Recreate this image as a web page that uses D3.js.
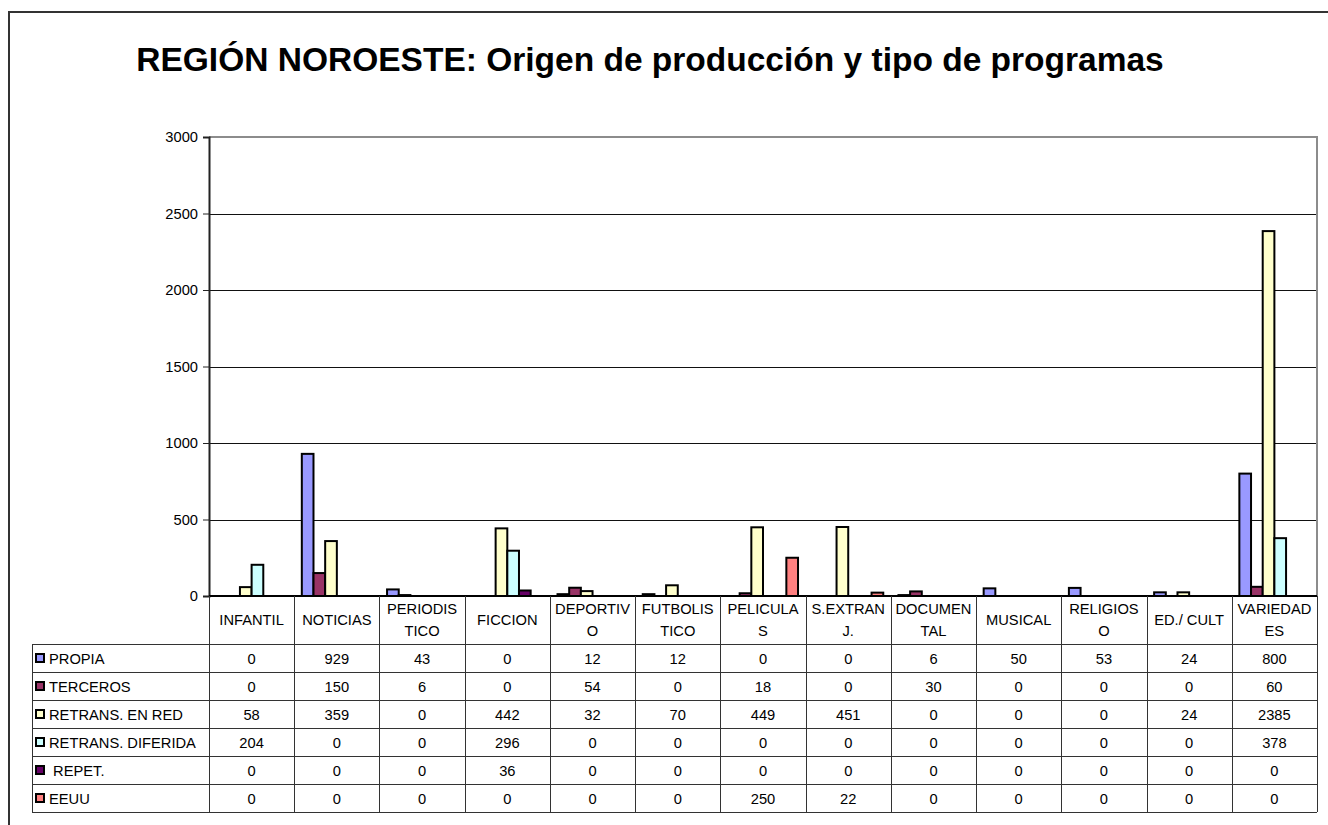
<!DOCTYPE html>
<html>
<head>
<meta charset="utf-8">
<script src="https://cdn.jsdelivr.net/npm/d3@7"></script>
<style>
  html, body { margin: 0; padding: 0; background: #fff; }
  svg { display: block; font-family: "Liberation Sans", Arial, sans-serif; }
</style>
</head>
<body>
<svg id="chart" width="1328" height="825"></svg>
<script>
// Programme types (column headers, with their line breaks)
const categories = ["INFANTIL", "NOTICIAS", "PERIODISTICO", "FICCION", "DEPORTIVO", "FUTBOLISTICO",
  "PELICULAS", "S.EXTRANJ.", "DOCUMENTAL", "MUSICAL", "RELIGIOSO", "ED./ CULT", "VARIEDADES"];
const categoryLines = [["INFANTIL"], ["NOTICIAS"], ["PERIODIS", "TICO"], ["FICCION"], ["DEPORTIV", "O"],
  ["FUTBOLIS", "TICO"], ["PELICULA", "S"], ["S.EXTRAN", "J."], ["DOCUMEN", "TAL"], ["MUSICAL"],
  ["RELIGIOS", "O"], ["ED./ CULT"], ["VARIEDAD", "ES"]];

// Production origin series
const seriesNames = ["PROPIA", "TERCEROS", "RETRANS. EN RED", "RETRANS. DIFERIDA", " REPET.", "EEUU"];
const seriesColors = ["#9999FF", "#993366", "#FFFFCC", "#CCFFFF", "#660066", "#FF8080"];

const propia        = [0, 929, 43, 0, 12, 12, 0, 0, 6, 50, 53, 24, 800];
const terceros      = [0, 150, 6, 0, 54, 0, 18, 0, 30, 0, 0, 0, 60];
const retransEnRed  = [58, 359, 0, 442, 32, 70, 449, 451, 0, 0, 0, 24, 2385];
const retransDifer  = [204, 0, 0, 296, 0, 0, 0, 0, 0, 0, 0, 0, 378];
const repet         = [0, 0, 0, 36, 0, 0, 0, 0, 0, 0, 0, 0, 0];
const eeuu          = [0, 0, 0, 0, 0, 0, 250, 22, 0, 0, 0, 0, 0];

const yTicks = [0, 500, 1000, 1500, 2000, 2500, 3000];

const seriesValues = [propia, terceros, retransEnRed, retransDifer, repet, eeuu];

const fontSize = 14.7;
const svg = d3.select("#chart");

// Outer chart frame
svg.append("rect")
  .attr("x", 9).attr("y", 12).attr("width", 1340).attr("height", 840)
  .attr("fill", "none").attr("stroke", "#333").attr("stroke-width", 2);

// Title
svg.append("text")
  .attr("x", 650).attr("y", 71)
  .attr("text-anchor", "middle")
  .attr("font-size", 33.5).attr("font-weight", "bold")
  .text("REGIÓN NOROESTE: Origen de producción y tipo de programas");

const plot = { left: 209, right: 1317, top: 137, bottom: 596 };

const x = d3.scaleBand().domain(categories).range([plot.left, plot.right]).padding(0);
const y = d3.scaleLinear().domain([0, 3000]).range([plot.bottom, plot.top]);

// Bars within a category: six slots with outer spacing on both sides
const xs = d3.scaleBand().domain(d3.range(seriesNames.length))
  .range([0, x.bandwidth()]).paddingInner(0).paddingOuter(0.65);

// Gridlines
svg.append("g").selectAll("line")
  .data(yTicks.filter(d => d > 0 && d < 3000))
  .join("line")
  .attr("x1", plot.left).attr("x2", plot.right)
  .attr("y1", d => Math.round(y(d)) + 0.5).attr("y2", d => Math.round(y(d)) + 0.5)
  .attr("stroke", "#111").attr("stroke-width", 1);

// Plot area border (top and right)
svg.append("path")
  .attr("d", `M${plot.left},${plot.top}H${plot.right}V${plot.bottom}`)
  .attr("fill", "none").attr("stroke", "#8c8c8c").attr("stroke-width", 2);

// Bars
const groups = svg.append("g").selectAll("g")
  .data(categories)
  .join("g")
  .attr("transform", d => `translate(${x(d)},0)`);

groups.selectAll("rect")
  .data((c, ci) => seriesValues.map((vals, si) => ({ si, v: vals[ci] })).filter(d => d.v > 0))
  .join("rect")
  .attr("x", d => xs(d.si))
  .attr("width", xs.bandwidth())
  .attr("y", d => y(d.v))
  .attr("height", d => y(0) - y(d.v))
  .attr("fill", d => seriesColors[d.si])
  .attr("stroke", "#000").attr("stroke-width", 2);

// Y axis
const yAxis = d3.axisLeft(y).tickValues(yTicks).tickSize(6).tickPadding(5).tickFormat(d3.format("d"));
const gy = svg.append("g").attr("transform", `translate(${plot.left},0)`).call(yAxis);
gy.select(".domain").attr("stroke", "#222").attr("stroke-width", 2);
gy.selectAll(".tick line").attr("stroke", "#222");
gy.selectAll(".tick text").attr("font-size", fontSize).attr("fill", "#000")
  .attr("font-family", "'Liberation Sans', Arial, sans-serif");

// Zero line
svg.append("line")
  .attr("x1", plot.left).attr("x2", plot.right)
  .attr("y1", plot.bottom).attr("y2", plot.bottom)
  .attr("stroke", "#000").attr("stroke-width", 2);

// Data table
const rowH = 28;
const tableTop = 644;
const legendLeft = 32;
const tableBottom = tableTop + rowH * seriesNames.length;
const tbl = svg.append("g").attr("stroke", "#333").attr("stroke-width", 1);

// Column separators (from axis to table bottom)
const colEdges = categories.map(c => x(c)).concat([plot.right]);
tbl.selectAll("line.col").data(colEdges).join("line")
  .attr("class", "col")
  .attr("x1", d => Math.round(d) + 0.5).attr("x2", d => Math.round(d) + 0.5)
  .attr("y1", plot.bottom).attr("y2", tableBottom);
tbl.append("line").attr("x1", legendLeft + 0.5).attr("x2", legendLeft + 0.5)
  .attr("y1", tableTop).attr("y2", tableBottom);

// Row separators
const rowEdges = d3.range(seriesNames.length + 1).map(i => tableTop + i * rowH);
tbl.selectAll("line.row").data(rowEdges).join("line")
  .attr("class", "row")
  .attr("x1", legendLeft).attr("x2", plot.right)
  .attr("y1", d => d + 0.5).attr("y2", d => d + 0.5);

// Category headers
const hdr = svg.append("g").attr("font-size", fontSize).attr("text-anchor", "middle");
categories.forEach((c, i) => {
  const lines = categoryLines[i];
  const cx = x(c) + x.bandwidth() / 2;
  const t = hdr.append("text").attr("x", cx);
  const startY = lines.length === 1 ? 625 : 614;
  lines.forEach((ln, li) => {
    t.append("tspan").attr("x", cx).attr("y", startY + li * 22).text(ln);
  });
});

// Legend keys and series names
const leg = svg.append("g");
seriesNames.forEach((name, si) => {
  const ry = tableTop + si * rowH;
  leg.append("rect")
    .attr("x", 36).attr("y", ry + 10).attr("width", 8).attr("height", 8)
    .attr("fill", seriesColors[si]).attr("stroke", "#000").attr("stroke-width", 2);
  leg.append("text")
    .attr("x", 49).attr("y", ry + 19.5)
    .attr("font-size", fontSize)
    .attr("xml:space", "preserve")
    .style("white-space", "pre")
    .text(name);
});

// Table values
const vals = svg.append("g").attr("font-size", fontSize).attr("text-anchor", "middle");
seriesValues.forEach((arr, si) => {
  arr.forEach((v, ci) => {
    vals.append("text")
      .attr("x", x(categories[ci]) + x.bandwidth() / 2)
      .attr("y", tableTop + si * rowH + 19.5)
      .text(v);
  });
});
</script>
</body>
</html>
